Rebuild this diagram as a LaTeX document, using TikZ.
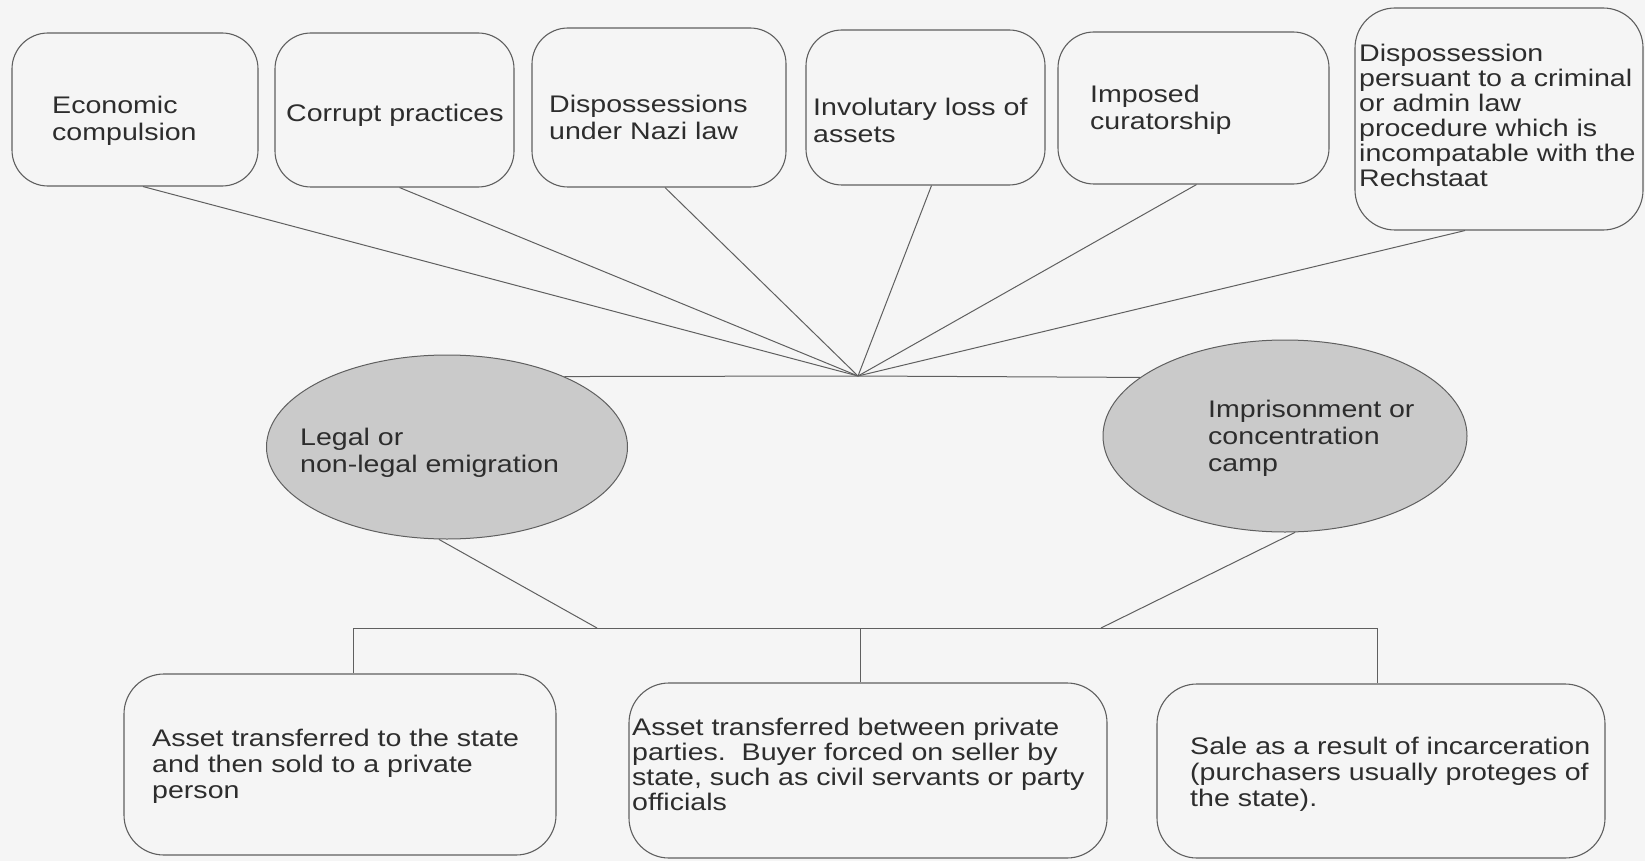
\documentclass[tikz,border=0pt]{standalone}
\usepackage{fontspec}
\setmainfont[FakeStretch=1.19]{Liberation Sans}
\usetikzlibrary{shapes.geometric}
\definecolor{bg}{RGB}{245,245,245}
\definecolor{ln}{RGB}{95,95,95}
\definecolor{tx}{RGB}{45,45,45}
\definecolor{ef}{RGB}{202,202,202}
\begin{document}
\begin{tikzpicture}[x=1pt,y=-1pt,
  box/.style={draw=ln, line width=1.1pt, rounded corners=36pt, inner sep=0pt, fill=bg},
  oval/.style={ellipse, draw=ln, line width=1pt, fill=ef, inner sep=0pt},
  lbl/.style={anchor=west, align=left, inner sep=0pt, text=tx, font=\fontsize{24}{27}\selectfont},
  conn/.style={draw=ln, line width=1pt}]
\fill[bg] (0,0) rectangle (1645,861);
\useasboundingbox (0,0) rectangle (1645,861);

% top boxes
\node[box, minimum width=246pt, minimum height=153pt] (b1) at (135,109.5) {};
\node[box, minimum width=239pt, minimum height=154pt] (b2) at (394.5,110) {};
\node[box, minimum width=254pt, minimum height=159pt] (b3) at (659,107.5) {};
\node[box, minimum width=239pt, minimum height=155pt] (b4) at (925.5,107.5) {};
\node[box, minimum width=271pt, minimum height=152pt] (b5) at (1193.5,108) {};
\node[box, rounded corners=40pt, minimum width=288pt, minimum height=222pt] (b6) at (1499,119) {};

% ellipses
\node[oval, minimum width=361pt, minimum height=184pt] (L) at (447,447) {};
\node[oval, minimum width=364pt, minimum height=192pt] (R) at (1285,436) {};

% bottom boxes
\node[box, rounded corners=40pt, minimum width=432pt, minimum height=181pt] (bb1) at (340,764.5) {};
\node[box, rounded corners=40pt, minimum width=478pt, minimum height=175pt] (bb2) at (868,770.5) {};
\node[box, rounded corners=40pt, minimum width=448pt, minimum height=174pt] (bb3) at (1381,771) {};

% labels
\node[lbl] (t1) at (52,121) {Economic\\compulsion};
\node[lbl] (t2) at (286,115) {Corrupt practices};
\node[lbl] (t3) at (549,117) {Dispossessions\\under Nazi law};
\node[lbl] (t4) at (813,120) {Involutary loss of\\assets};
\node[lbl] (t5) at (1090,110) {Imposed\\curatorship};
\node[lbl, font=\fontsize{24}{25}\selectfont] (t6) at (1359,115) {Dispossession\\persuant to a criminal\\or admin law\\procedure which is\\incompatable with the\\Rechstaat};
\node[lbl] (tL) at (300,453) {Legal or\\non-legal emigration};
\node[lbl] (tR) at (1208,438) {Imprisonment or\\concentration\\camp};
\node[lbl, font=\fontsize{24}{26}\selectfont] (tb1) at (152,766) {Asset transferred to the state\\and then sold to a private\\person};
\node[lbl, font=\fontsize{24}{25}\selectfont] (tb2) at (632,764) {Asset transferred between private\\parties.\ \ Buyer forced on seller by\\state, such as civil servants or party\\officials};
\node[lbl, font=\fontsize{24}{26}\selectfont] (tb3) at (1190,774) {Sale as a result of incarceration\\(purchasers usually proteges of\\the state).};

% upper connectors
\coordinate (hub) at (858,376);
\draw[conn] ([xshift=8pt]b1.south) -- (hub);
\draw[conn] ([xshift=5pt]b2.south) -- (hub);
\draw[conn] ([xshift=6pt]b3.south) -- (hub);
\draw[conn] ([xshift=6pt]b4.south) -- (hub);
\draw[conn] ([xshift=3pt]b5.south) -- (hub);
\draw[conn] ([xshift=-34pt]b6.south) -- (hub);
\draw[conn] (L.31) -- (hub) -- (R.158);

% lower tree
\coordinate (bl) at (353,628);
\coordinate (bm) at (860,628);
\coordinate (br) at (1377,628);
\coordinate (jL) at (597,628);
\coordinate (jR) at (1101,628);
\draw[conn] (bl) -- (br);
\draw[conn] (bl) -- (bl |- bb1.north);
\draw[conn] (bm) -- (bm |- bb2.north);
\draw[conn] (br) -- (br |- bb3.north);
\draw[conn] (L.265) -- (jL);
\draw[conn] (R.-84) -- (jR);
\end{tikzpicture}
\end{document}
